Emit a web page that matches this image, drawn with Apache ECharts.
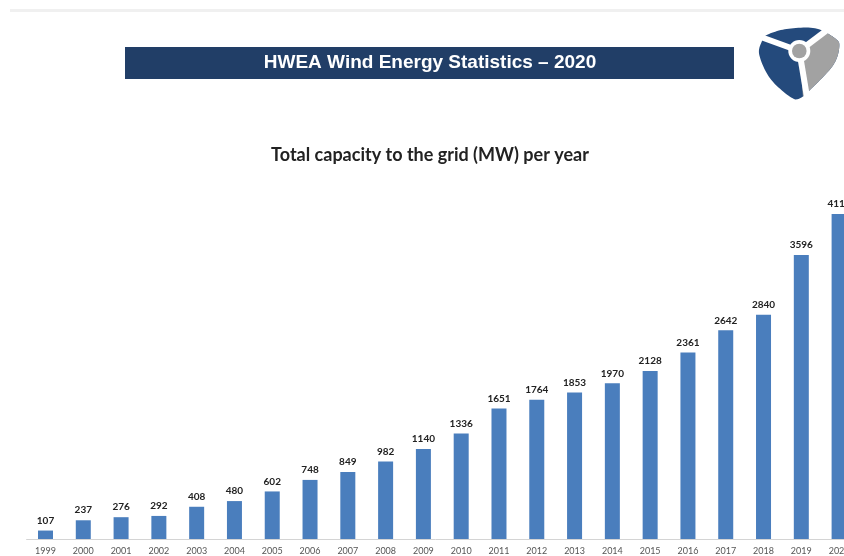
<!DOCTYPE html>
<html>
<head>
<meta charset="utf-8">
<script src="https://cdn.jsdelivr.net/npm/echarts@6/dist/echarts.min.js"></script>
<style>
html,body{margin:0;padding:0;background:#fff;}
#chart{width:844px;height:556px;}
</style>
</head>
<body>
<div id="chart"></div>
<script>
const years = ['1999','2000','2001','2002','2003','2004','2005','2006','2007','2008','2009','2010','2011','2012','2013','2014','2015','2016','2017','2018','2019','2020'];
const capacityMW = [107,237,276,292,408,480,602,748,849,982,1140,1336,1651,1764,1853,1970,2128,2361,2642,2840,3596,4113];
const bannerTitle = 'HWEA Wind Energy Statistics \u2013 2020';
const chartTitle = 'Total capacity to the grid (MW) per year';

// logo geometry (decorative)
const cx = 799.3, cy = 51;
const ctrl = [[766.7,35],[786.7,29],[815,28.3],[835,38.3],[839.3,46.7],[833.3,65],[813.3,86.7],[800,98.3],[790,96.7],[770,78.3],[759.3,55],[761.7,41.7]];
function catmull(pts, n) {
  const out = [], L = pts.length;
  for (let i = 0; i < L; i++) {
    const p0 = pts[(i - 1 + L) % L], p1 = pts[i], p2 = pts[(i + 1) % L], p3 = pts[(i + 2) % L];
    for (let k = 0; k < n; k++) {
      const t = k / n, t2 = t * t, t3 = t2 * t;
      const f = (a, b, c, d) => 0.5 * ((2 * b) + (-a + c) * t + (2 * a - 5 * b + 4 * c - d) * t2 + (-a + 3 * b - 3 * c + d) * t3);
      out.push([f(p0[0], p1[0], p2[0], p3[0]), f(p0[1], p1[1], p2[1], p3[1])]);
    }
  }
  return out;
}
const contour = catmull(ctrl, 12);
const a1 = -37 * Math.PI / 180, a2 = 80.5 * Math.PI / 180;
const grayPts = [[cx, cy]].concat(contour.filter(p => { const a = Math.atan2(p[1] - cy, p[0] - cx); return a > a1 - 0.1 && a < a2 + 0.1; }));
function blade(angDeg, len) { const a = angDeg * Math.PI / 180; return { x1: cx, y1: cy, x2: cx + Math.cos(a) * len, y2: cy + Math.sin(a) * len }; }

const chart = echarts.init(document.getElementById('chart'), null, {renderer:'canvas'});
chart.setOption({
  backgroundColor: '#ffffff',
  animation: false,
  grid: { left: 26.6, right: -14, top: 183.5, bottom: 17, containLabel: false, outerBoundsMode: 'none' },
  xAxis: {
    type: 'category',
    data: years,
    axisLine: { show: true, lineStyle: { color: '#d4d4d4', width: 1 } },
    axisTick: { show: false },
    axisLabel: { interval: 0, fontFamily: 'Lato', fontSize: 9, color: '#555555', margin: 8 }
  },
  yAxis: { type: 'value', min: 0, max: 4500, show: false, splitLine: { show: false } },
  series: [{
    type: 'bar',
    data: capacityMW,
    barWidth: 15,
    itemStyle: { color: '#4a7ebd' },
    label: { show: true, position: 'top', distance: 5, fontFamily: 'Lato', fontWeight: 'bold', fontSize: 10, color: '#222222' }
  }],
  graphic: [
    { type: 'rect', shape: { x: 10, y: 9, width: 834, height: 3 }, style: { fill: '#f0f0f0' }, silent: true },
    { type: 'rect', shape: { x: 125, y: 47, width: 609, height: 32 }, style: { fill: '#213e67' }, silent: true },
    { type: 'text', x: 430, y: 63, style: { text: bannerTitle, fill: '#ffffff', font: 'bold 19px "Liberation Sans", Arial, sans-serif', textAlign: 'center', textVerticalAlign: 'middle' }, silent: true },
    { type: 'text', x: 430, y: 155, style: { text: chartTitle, fill: '#222222', font: 'bold 18px Lato, sans-serif', textAlign: 'center', textVerticalAlign: 'middle' }, silent: true },
    // logo
    { type: 'polygon', shape: { points: contour }, style: { fill: '#244a7c' }, silent: true },
    { type: 'polygon', shape: { points: grayPts }, style: { fill: '#a2a2a2' }, silent: true },
    { type: 'line', shape: blade(-160, 60), style: { stroke: '#ffffff', lineWidth: 6 }, silent: true },
    { type: 'line', shape: blade(-37, 60), style: { stroke: '#ffffff', lineWidth: 6 }, silent: true },
    { type: 'line', shape: blade(80.5, 60), style: { stroke: '#ffffff', lineWidth: 6 }, silent: true },
    { type: 'circle', shape: { cx: cx, cy: cy, r: 11 }, style: { fill: '#ffffff' }, silent: true },
    { type: 'circle', shape: { cx: cx, cy: cy, r: 7.3 }, style: { fill: '#a2a2a2' }, silent: true }
  ]
});
</script>
</body>
</html>
